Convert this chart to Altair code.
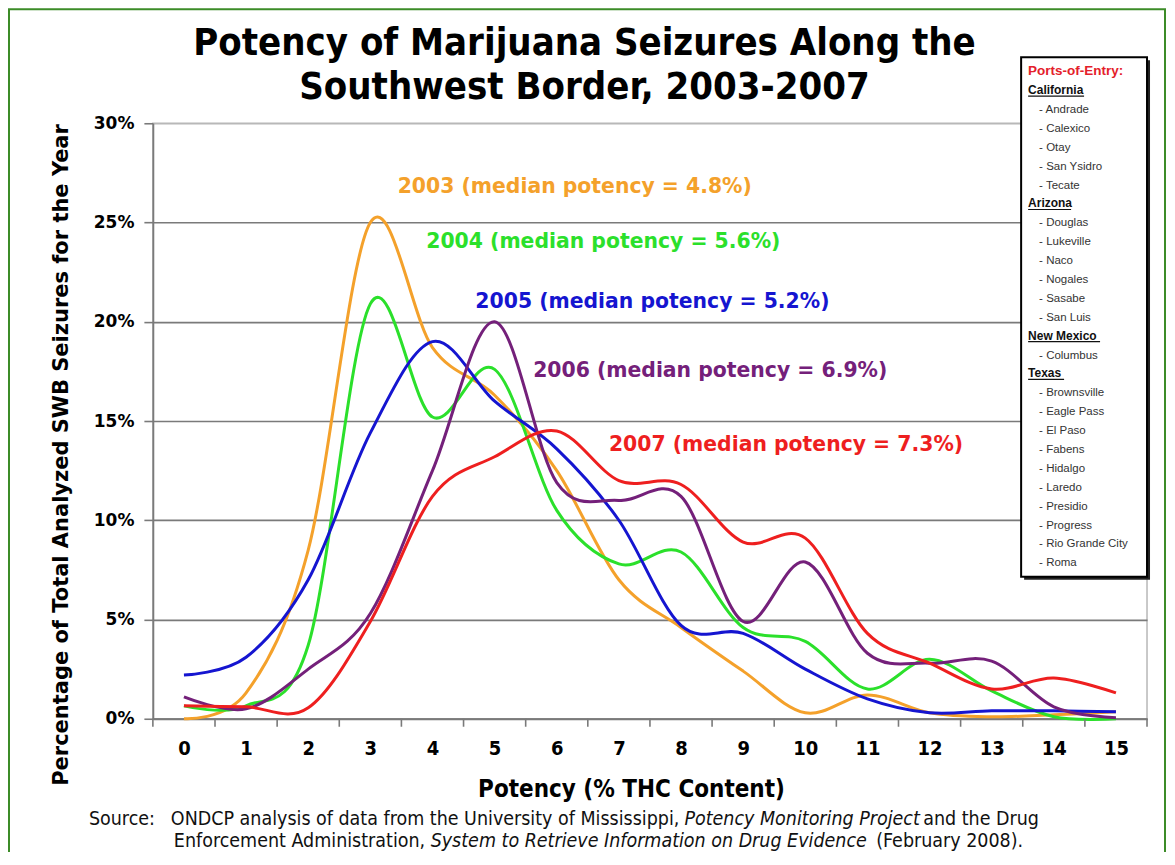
import altair as alt
import pandas as pd

# ---------------- data ----------------
potency = list(range(16))
years = ["2003", "2004", "2005", "2006", "2007"]
s2003 = [0.0, 1.3, 8.5, 25.0, 18.7, 16.3, 12.5, 7.0, 4.6, 2.4, 0.3, 1.2, 0.3, 0.1, 0.2, 0.35]
s2004 = [0.65, 0.65, 3.7, 20.9, 15.2, 17.6, 10.5, 7.8, 8.4, 4.6, 3.9, 1.5, 3.0, 1.4, 0.1, 0.0]
s2005 = [2.2, 3.1, 7.0, 14.4, 19.0, 16.0, 13.6, 10.0, 4.7, 4.3, 2.5, 1.0, 0.3, 0.4, 0.4, 0.35]
s2006 = [1.1, 0.5, 2.5, 5.3, 12.5, 20.0, 11.9, 11.0, 11.2, 4.9, 7.9, 3.3, 2.8, 2.9, 0.6, 0.05]
s2007 = [0.65, 0.6, 0.55, 4.9, 11.2, 13.2, 14.5, 12.0, 11.8, 8.9, 9.1, 4.3, 2.8, 1.5, 2.05, 1.3]
series = [s2003, s2004, s2005, s2006, s2007]
medians = ["4.8%", "5.6%", "5.2%", "6.9%", "7.3%"]

y_ticks = [0, 5, 10, 15, 20, 25, 30]
x_tick_marks = [k - 0.5 for k in range(17)]

ports = {
    "California": ["Andrade", "Calexico", "Otay", "San Ysidro", "Tecate"],
    "Arizona": ["Douglas", "Lukeville", "Naco", "Nogales", "Sasabe", "San Luis"],
    "New Mexico": ["Columbus"],
    "Texas": ["Brownsville", "Eagle Pass", "El Paso", "Fabens", "Hidalgo", "Laredo",
              "Presidio", "Progress", "Rio Grande City", "Roma"],
}
ports_title = "Ports-of-Entry:"

title_lines = ["Potency of Marijuana Seizures Along the", "Southwest Border, 2003-2007"]
x_title = "Potency (% THC Content)"
y_title = "Percentage of Total Analyzed SWB Seizures for the Year"
source_1 = [("Source:", "normal"),
            ("ONDCP analysis of data from the University of Mississippi,", "normal"),
            ("Potency Monitoring Project", "italic"),
            ("and the Drug", "normal")]
source_2 = [("Enforcement Administration,", "normal"),
            ("System to Retrieve Information on Drug Evidence", "italic"),
            ("(February 2008).", "normal")]

# ---------------- styling / layout ----------------
line_colors = ["#F4A12B", "#2BE02B", "#1515D0", "#74207A", "#EE1F1F"]
label_colors = ["#F4A12B", "#2BE02B", "#1515D0", "#8A3A78", "#EE1F1F"]

W, H = 995, 596
OX, OY = 153, 123  # page position of plot origin


def px(x):
    return x - OX


def py(y):
    return y - OY


F_TAHOMA = "DejaVu Sans Condensed, DejaVu Sans, sans-serif"
F_VERD = "DejaVu Sans, sans-serif"
F_ARIAL = "Liberation Sans, Arial, sans-serif"

one = alt.Data(values=[{"k": 0}])


def txt(x, y, s, size, font, color="black", weight="normal", style="normal",
        align="center", baseline="middle", angle=0):
    kw = dict(fontSize=size, font=font, color=color, fontWeight=weight,
              fontStyle=style, align=align, baseline=baseline)
    if angle:
        kw["angle"] = angle
    return alt.Chart(one).mark_text(**kw).encode(
        x=alt.value(px(x)), y=alt.value(py(y)), text=alt.value(s))


def box(x1, y1, x2, y2, **kw):
    return alt.Chart(one).mark_rect(**kw).encode(
        x=alt.value(px(x1)), x2=alt.value(px(x2)),
        y=alt.value(py(y1)), y2=alt.value(py(y2)))


def hrule(x1, x2, y, color, width):
    return alt.Chart(one).mark_rule(color=color, strokeWidth=width).encode(
        x=alt.value(px(x1)), x2=alt.value(px(x2)), y=alt.value(py(y)))


# ---------------- main lines ----------------
rows = []
for yr, vals in zip(years, series):
    for p, v in zip(potency, vals):
        rows.append({"year": yr, "potency": p, "pct": v})
df = pd.DataFrame(rows)

xscale = alt.Scale(domain=[-0.5, 15.5], nice=False, zero=False)
yscale = alt.Scale(domain=[0, 30], nice=False)

lines = alt.Chart(df).mark_line(interpolate="cardinal", strokeWidth=3).encode(
    x=alt.X("potency:Q", scale=xscale,
            axis=alt.Axis(values=potency, format="d", title="", grid=False, ticks=False,
                          labelPadding=20, labelFont=F_TAHOMA, labelFontSize=20,
                          labelFontWeight="bold", labelColor="black",
                          domainColor="#7A7A7A", domainWidth=1.8, labelFlush=False)),
    y=alt.Y("pct:Q", scale=yscale,
            axis=alt.Axis(values=y_ticks, title="", labelExpr="datum.value + '%'",
                          grid=True,
                          gridColor={"condition": {"test": "datum.value == 30", "value": "#B8B8B8"},
                                     "value": "#7A7A7A"},
                          gridWidth=1.6, tickSize=9, tickColor="#7A7A7A", tickWidth=1.6,
                          labelPadding=10, labelFont=F_VERD, labelFontSize=17,
                          labelFontWeight="bold", labelColor="black",
                          domainColor="#7A7A7A", domainWidth=1.8)),
    color=alt.Color("year:N", scale=alt.Scale(domain=years, range=line_colors), legend=None),
)

tick_df = pd.DataFrame({"tick": x_tick_marks})
xticks = alt.Chart(tick_df).mark_rule(color="#7A7A7A", strokeWidth=1.6).encode(
    x=alt.X("tick:Q", scale=xscale), y=alt.value(H), y2=alt.value(H + 8))

# annotations (data coordinates)
ann_x = [6.29, 6.75, 7.54, 8.47, 9.69]
ann_y = [26.8, 24.0, 21.0, 17.5, 13.8]
ann_df = pd.DataFrame({
    "potency": ann_x, "pct": ann_y,
    "label": [f"{y} (median potency = {m})" for y, m in zip(years, medians)],
    "year": years,
})
annotations = alt.Chart(ann_df).mark_text(
    font=F_VERD, fontSize=20.4, fontWeight="bold", align="center", baseline="middle"
).encode(
    x=alt.X("potency:Q", scale=xscale),
    y=alt.Y("pct:Q", scale=yscale),
    text="label:N",
    color=alt.Color("year:N", scale=alt.Scale(domain=years, range=label_colors), legend=None),
)

# ---------------- decorations ----------------
frame = box(9, 9, 1166, 900, fill="white", fillOpacity=0, stroke="#3C8C28", strokeWidth=2)

titles = [txt(585, 44, title_lines[0], 38, F_TAHOMA, weight="bold"),
          txt(585, 88, title_lines[1], 38, F_TAHOMA, weight="bold")]

x_title_mark = txt(632, 790, x_title, 24, F_TAHOMA, weight="bold")
y_title_mark = txt(62, 455, y_title, 21, F_VERD, weight="bold", angle=270)

src_x1 = [89, 171, 685, 924]
src_x2 = [174, 431, 877]
source_marks = []
for (s, st), x in zip(source_1, src_x1):
    source_marks.append(txt(x, 825, s, 19.5, F_TAHOMA, color="#111111", style=st,
                            align="left", baseline="alphabetic"))
for (s, st), x in zip(source_2, src_x2):
    source_marks.append(txt(x, 847, s, 19.5, F_TAHOMA, color="#111111", style=st,
                            align="left", baseline="alphabetic"))

# legend box with ports of entry (one text mark per row)
ROW0, STEP = 71, 18.9
legend_shadow = box(1025, 60, 1151, 580, fill="#222222")
legend_box = box(1022, 57, 1148, 577, fill="white", stroke="black", strokeWidth=2)
legend_marks = [txt(1029, ROW0 + 4, ports_title, 13.5, F_ARIAL, color="#E4202A",
                    weight="bold", align="left", baseline="alphabetic")]
underline_w = {"California": 56, "Arizona": 43, "New Mexico": 72, "Texas": 36}
r = 1
for state, cities in ports.items():
    yb = ROW0 + STEP * r + 4
    legend_marks.append(txt(1029, yb, state, 12, F_ARIAL, color="#111111", weight="bold",
                            align="left", baseline="alphabetic"))
    legend_marks.append(hrule(1029, 1029 + underline_w[state], yb + 2, "#111111", 1.2))
    r += 1
    for c in cities:
        legend_marks.append(txt(1040, ROW0 + STEP * r + 4, "- " + c, 11.5, F_ARIAL,
                                color="#333333", align="left", baseline="alphabetic"))
        r += 1

chart = alt.layer(
    frame, lines, xticks, annotations, legend_shadow, legend_box, *legend_marks,
    *titles, x_title_mark, y_title_mark, *source_marks,
).properties(
    width=W, height=H,
    padding={"left": OX - 8, "top": OY - 8, "right": 20, "bottom": 133},
    autosize=alt.AutoSizeParams(type="none"),
    background="white",
).configure_view(stroke="#B8B8B8", strokeWidth=1.5)

chart.save("out.html", embed_options={"renderer": "svg", "actions": False})
